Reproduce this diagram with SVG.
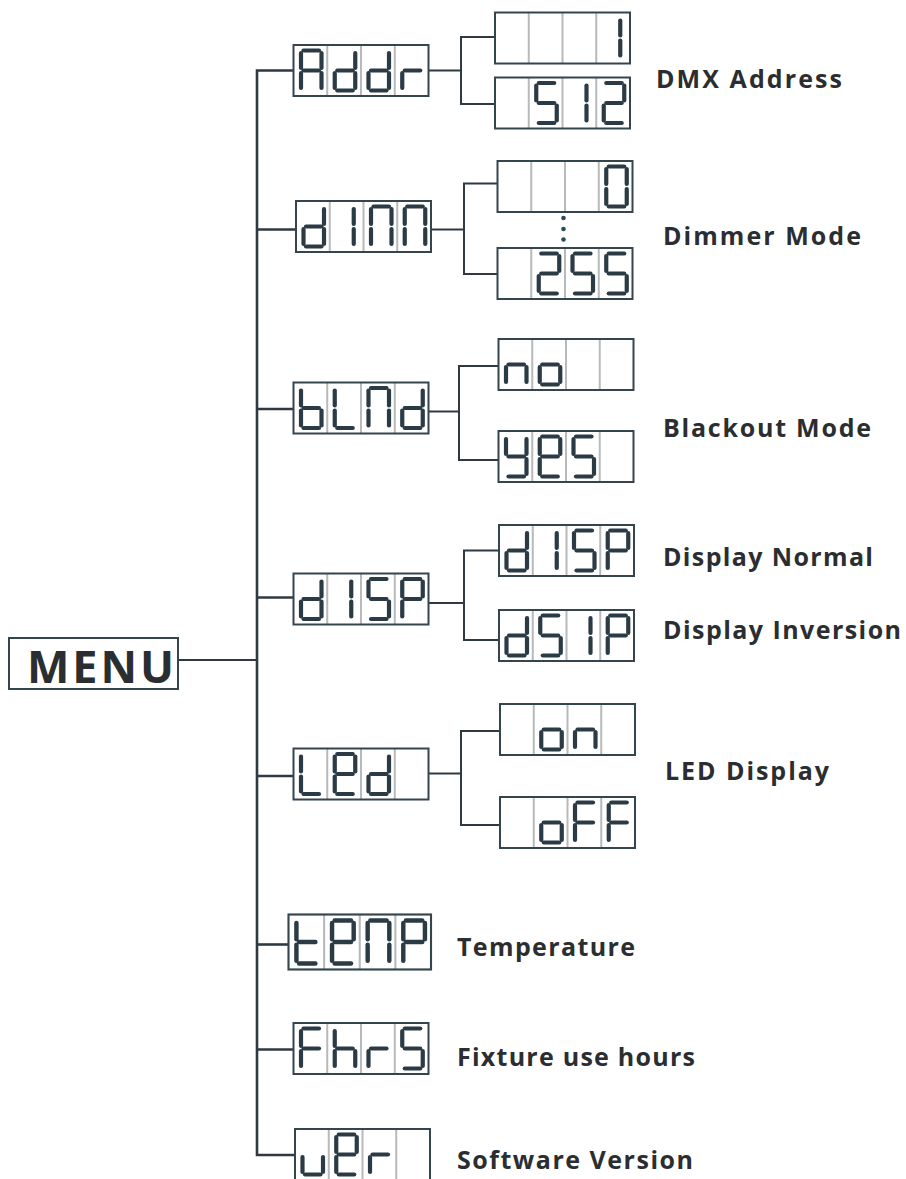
<svg xmlns="http://www.w3.org/2000/svg" xmlns:xlink="http://www.w3.org/1999/xlink" width="906" height="1179" viewBox="0 0 906 1179">
<style>
.seg{stroke:#2a3b45;stroke-width:4.2;stroke-linecap:round;fill:none}
.bg{fill:#ffffff}
.frame{fill:none;stroke:#34454e;stroke-width:2}
.div{stroke:#b6babd;stroke-width:2;fill:none}
.wire{fill:none;stroke:#2f3a40;stroke-width:2}
.trunk{fill:none;stroke:#2f3a40;stroke-width:2.6}
.lbl{font-family:"Open Sans","Liberation Sans",sans-serif;font-weight:700;font-size:25px;fill:#2b2e31}
.menu{font-family:"Open Sans","Liberation Sans",sans-serif;font-weight:700;font-size:45px;fill:#2b2e31}
.dot{fill:#2c4a58}
</style>
<defs>
<line id="sa" class="seg" x1="10" y1="5.5" x2="25.5" y2="5.5"/>
<line id="sb" class="seg" x1="28" y1="8" x2="28" y2="23"/>
<line id="sc" class="seg" x1="28" y1="28" x2="28" y2="43"/>
<line id="sd" class="seg" x1="10" y1="45.5" x2="25.5" y2="45.5"/>
<line id="se" class="seg" x1="7.5" y1="28" x2="7.5" y2="43"/>
<line id="sf" class="seg" x1="7.5" y1="8" x2="7.5" y2="23"/>
<line id="sg" class="seg" x1="10" y1="25.5" x2="25.5" y2="25.5"/>
<line id="s1b" class="seg" x1="24" y1="8" x2="24" y2="23"/>
<line id="s1c" class="seg" x1="24" y1="28" x2="24" y2="43"/>
<g id="gA"><use href="#sa"/><use href="#sb"/><use href="#sc"/><use href="#se"/><use href="#sf"/><use href="#sg"/></g>
<g id="gd"><use href="#sb"/><use href="#sc"/><use href="#sd"/><use href="#se"/><use href="#sg"/></g>
<g id="gr"><use href="#se"/><use href="#sg"/></g>
<g id="g1"><use href="#s1b"/><use href="#s1c"/></g>
<g id="g5"><use href="#sa"/><use href="#sf"/><use href="#sg"/><use href="#sc"/><use href="#sd"/></g>
<g id="g2"><use href="#sa"/><use href="#sb"/><use href="#sg"/><use href="#se"/><use href="#sd"/></g>
<g id="gN"><use href="#sa"/><use href="#sb"/><use href="#sc"/><use href="#se"/><use href="#sf"/></g>
<g id="g0"><use href="#sa"/><use href="#sb"/><use href="#sc"/><use href="#sd"/><use href="#se"/><use href="#sf"/></g>
<g id="gb"><use href="#sc"/><use href="#sd"/><use href="#se"/><use href="#sf"/><use href="#sg"/></g>
<g id="gL"><use href="#sd"/><use href="#se"/><use href="#sf"/></g>
<g id="gn"><use href="#sc"/><use href="#se"/><use href="#sg"/></g>
<g id="go"><use href="#sc"/><use href="#sd"/><use href="#se"/><use href="#sg"/></g>
<g id="gy"><use href="#sb"/><use href="#sc"/><use href="#sd"/><use href="#sf"/><use href="#sg"/></g>
<g id="ge"><use href="#sa"/><use href="#sb"/><use href="#sd"/><use href="#se"/><use href="#sf"/><use href="#sg"/></g>
<g id="gP"><use href="#sa"/><use href="#sb"/><use href="#se"/><use href="#sf"/><use href="#sg"/></g>
<g id="gF"><use href="#sa"/><use href="#se"/><use href="#sf"/><use href="#sg"/></g>
<g id="gt"><use href="#sd"/><use href="#se"/><use href="#sf"/><use href="#sg"/></g>
<g id="gh"><use href="#sc"/><use href="#se"/><use href="#sf"/><use href="#sg"/></g>
<g id="gu"><use href="#sc"/><use href="#sd"/><use href="#se"/></g>
<g id="box"><rect class="bg" x="0" y="0" width="135" height="51"/><path class="div" d="M33.75 0V51M67.5 0V51M101.25 0V51"/><rect class="frame" x="0" y="0" width="135" height="51"/></g>
</defs>

<g id="connectors">
<line class="wire" x1="178" y1="660" x2="257" y2="660"/>
<path class="trunk" d="M293.5 70.5H257V1155H295"/>
<line class="trunk" x1="257" y1="229.5" x2="296" y2="229.5"/>
<line class="trunk" x1="257" y1="409" x2="293.5" y2="409"/>
<line class="trunk" x1="257" y1="597.5" x2="293.5" y2="597.5"/>
<line class="trunk" x1="257" y1="776" x2="293.5" y2="776"/>
<line class="trunk" x1="257" y1="944.5" x2="288.5" y2="944.5"/>
<line class="trunk" x1="257" y1="1049.5" x2="293.5" y2="1049.5"/>
<path class="wire" d="M428.5 70.5H461M495 37H461V104H495"/>
<path class="wire" d="M432 229.5H464M497.5 183.5H464V274H497.5"/>
<path class="wire" d="M428.5 411.5H459M498.5 366H459V460H498.5"/>
<path class="wire" d="M429 603H464M499 550.5H464V640H499"/>
<path class="wire" d="M429 773.5H461M500 731H461V825H500"/>
</g>

<g id="menu">
<rect x="9" y="638" width="169" height="51" fill="#fff" stroke="#34454e" stroke-width="2"/>
<text class="menu" x="27" y="682.5" textLength="147" lengthAdjust="spacing">MENU</text>
</g>

<g id="node-addr" transform="translate(293.5,45)"><use href="#box"/><use href="#gA"/><use href="#gd" x="33.75"/><use href="#gd" x="67.5"/><use href="#gr" x="101.25"/></g>
<g id="node-addr-1" transform="translate(495,12.5)"><use href="#box"/><use href="#g1" x="101.25"/></g>
<g id="node-addr-512" transform="translate(495,77.5)"><use href="#box"/><use href="#g5" x="33.75"/><use href="#g1" x="67.5"/><use href="#g2" x="101.25"/></g>

<g id="node-dim" transform="translate(296,201)"><use href="#box"/><use href="#gd"/><use href="#g1" x="33.75"/><use href="#gN" x="67.5"/><use href="#gN" x="101.25"/></g>
<g id="node-dim-0" transform="translate(497.5,161)"><use href="#box"/><use href="#g0" x="101.25"/></g>
<g id="node-dim-255" transform="translate(497.5,248)"><use href="#box"/><use href="#g2" x="33.75"/><use href="#g5" x="67.5"/><use href="#g5" x="101.25"/></g>
<g id="dots"><circle class="dot" cx="563.5" cy="218" r="2.3"/><circle class="dot" cx="563.5" cy="229" r="2.3"/><circle class="dot" cx="563.5" cy="239.5" r="2.3"/></g>

<g id="node-blnd" transform="translate(293.5,382.5)"><use href="#box"/><use href="#gb"/><use href="#gL" x="33.75"/><use href="#gN" x="67.5"/><use href="#gd" x="101.25"/></g>
<g id="node-blnd-no" transform="translate(498.5,339)"><use href="#box"/><use href="#gn"/><use href="#go" x="33.75"/></g>
<g id="node-blnd-yes" transform="translate(498.5,431)"><use href="#box"/><use href="#gy"/><use href="#ge" x="33.75"/><use href="#g5" x="67.5"/></g>

<g id="node-disp" transform="translate(293.5,573.5)"><use href="#box"/><use href="#gd"/><use href="#g1" x="33.75"/><use href="#g5" x="67.5"/><use href="#gP" x="101.25"/></g>
<g id="node-disp-normal" transform="translate(499,525)"><use href="#box"/><use href="#gd"/><use href="#g1" x="33.75"/><use href="#g5" x="67.5"/><use href="#gP" x="101.25"/></g>
<g id="node-disp-inv" transform="translate(499,610)"><use href="#box"/><use href="#gd"/><use href="#g5" x="33.75"/><use href="#g1" x="67.5"/><use href="#gP" x="101.25"/></g>

<g id="node-led" transform="translate(293.5,748.5)"><use href="#box"/><use href="#gL"/><use href="#ge" x="33.75"/><use href="#gd" x="67.5"/></g>
<g id="node-led-on" transform="translate(500,704)"><use href="#box"/><use href="#go" x="33.75"/><use href="#gn" x="67.5"/></g>
<g id="node-led-off" transform="translate(500,797)"><use href="#box"/><use href="#go" x="33.75"/><use href="#gF" x="67.5"/><use href="#gF" x="101.25"/></g>

<g id="node-temp" transform="translate(288.5,914.5) scale(1.0556,1.078)"><use href="#box"/><use href="#gt"/><use href="#ge" x="33.75"/><use href="#gN" x="67.5"/><use href="#gP" x="101.25"/></g>
<g id="node-fhrs" transform="translate(293.5,1023)"><use href="#box"/><use href="#gF"/><use href="#gh" x="33.75"/><use href="#gr" x="67.5"/><use href="#g5" x="101.25"/></g>
<g id="node-ver" transform="translate(295,1129)"><use href="#box"/><use href="#gu"/><use href="#ge" x="33.75"/><use href="#gr" x="67.5"/></g>

<g id="labels">
<text class="lbl" x="656" y="88" textLength="186" lengthAdjust="spacing">DMX Address</text>
<text class="lbl" x="663" y="245" textLength="198" lengthAdjust="spacing">Dimmer Mode</text>
<text class="lbl" x="663" y="437" textLength="208" lengthAdjust="spacing">Blackout Mode</text>
<text class="lbl" x="663" y="566" textLength="210" lengthAdjust="spacing">Display Normal</text>
<text class="lbl" x="663" y="639" textLength="238" lengthAdjust="spacing">Display Inversion</text>
<text class="lbl" x="665" y="780" textLength="164" lengthAdjust="spacing">LED Display</text>
<text class="lbl" x="457" y="956" textLength="178" lengthAdjust="spacing">Temperature</text>
<text class="lbl" x="457" y="1066" textLength="238" lengthAdjust="spacing">Fixture use hours</text>
<text class="lbl" x="457" y="1169" textLength="236" lengthAdjust="spacing">Software Version</text>
</g>
</svg>
